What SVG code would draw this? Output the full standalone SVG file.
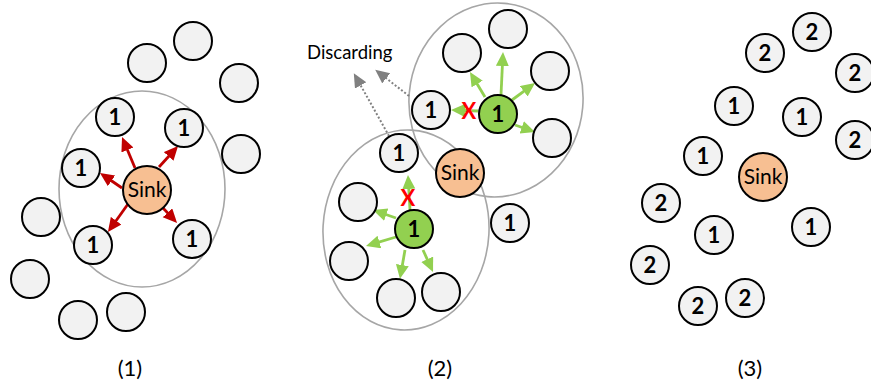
<svg xmlns="http://www.w3.org/2000/svg" width="871" height="385" viewBox="0 0 871 385">
<style>
.n{fill:#f2f2f2;stroke:#000;stroke-width:2}
.sink{fill:#f7bf92;stroke:#000;stroke-width:2}
.g{fill:#92d050;stroke:#000;stroke-width:2}
.ell{fill:none;stroke:#a6a6a6;stroke-width:1.6}
.num{font-family:Lato,"Liberation Sans",sans-serif;font-weight:bold;font-size:22px;text-anchor:middle;fill:#000}
.st{font-family:Lato,"Liberation Sans",sans-serif;font-size:21px;text-anchor:middle;fill:#000}
.lbl{font-family:Lato,"Liberation Sans",sans-serif;font-size:22px;text-anchor:middle;fill:#000}
.ra{stroke:#c00000;stroke-width:2.8;fill:none;marker-end:url(#mr)}
.ga{stroke:#92d050;stroke-width:2.8;fill:none;marker-end:url(#mg)}
.da{stroke:#808080;stroke-width:2;stroke-dasharray:2 2;fill:none;marker-end:url(#md)}
.x{font-family:Lato,"Liberation Sans",sans-serif;font-weight:bold;font-size:22px;text-anchor:middle;fill:#ff0000}
</style>
<defs>
<marker id="mr" markerUnits="userSpaceOnUse" markerWidth="15" markerHeight="14" refX="5" refY="6.5" orient="auto"><path d="M0,0 L14,6.5 L0,13 z" fill="#c00000"/></marker>
<marker id="mg" markerUnits="userSpaceOnUse" markerWidth="15" markerHeight="14" refX="5" refY="6.5" orient="auto"><path d="M0,0 L14,6.5 L0,13 z" fill="#92d050"/></marker>
<marker id="md" markerUnits="userSpaceOnUse" markerWidth="15" markerHeight="14" refX="5" refY="6.5" orient="auto"><path d="M0,0 L14,6.5 L0,13 z" fill="#808080"/></marker>
</defs>

<!-- ellipses (ranges) -->
<g id="ranges">
<ellipse class="ell" cx="142" cy="189" rx="83" ry="98"/>
<ellipse class="ell" cx="496" cy="100" rx="87" ry="97" transform="rotate(5 496 100)"/>
<ellipse class="ell" cx="406" cy="230" rx="83" ry="100" transform="rotate(3 406 230)"/>
</g>

<g id="connectors">
<line class="ra" x1="135" y1="168" x2="125.5" y2="145.3"/>
<line class="ra" x1="159" y1="167" x2="172" y2="152.7"/>
<line class="ra" x1="122" y1="188" x2="107.4" y2="178"/>
<line class="ra" x1="128" y1="204" x2="113.2" y2="224.7"/>
<line class="ra" x1="163" y1="208" x2="170.9" y2="216.4"/>

<line class="ga" x1="485" y1="97" x2="474.6" y2="79.7"/>
<line class="ga" x1="501" y1="95" x2="502.6" y2="61"/>
<line class="ga" x1="512" y1="100" x2="527.8" y2="88.4"/>
<line class="ga" x1="515" y1="125" x2="526.5" y2="129"/>
<line class="ga" x1="478" y1="111" x2="460" y2="110.3"/>

<line class="ga" x1="410" y1="210" x2="408.5" y2="184"/>
<line class="ga" x1="396" y1="218" x2="381.5" y2="213"/>
<line class="ga" x1="396" y1="237" x2="374.6" y2="243.4"/>
<line class="ga" x1="405" y1="250" x2="401.5" y2="270"/>
<line class="ga" x1="423" y1="250" x2="429.3" y2="263.8"/>

<line class="da" x1="409" y1="96" x2="382.3" y2="75.2"/>
<line class="da" x1="389" y1="136" x2="358.2" y2="81"/>
</g>

<!-- Panel 1 -->
<g id="p1-n1"><circle class="n" cx="147" cy="63" r="19"/></g>
<g id="p1-n2"><circle class="n" cx="193" cy="41" r="19"/></g>
<g id="p1-n3"><circle class="n" cx="239" cy="83" r="19"/></g>
<g id="p1-n4"><circle class="n" cx="115" cy="117" r="19"/><text class="num" x="115" y="125">1</text></g>
<g id="p1-n5"><circle class="n" cx="184" cy="128" r="19"/><text class="num" x="184" y="136">1</text></g>
<g id="p1-n6"><circle class="n" cx="81" cy="168" r="19"/><text class="num" x="81" y="176">1</text></g>
<g id="p1-n7"><circle class="n" cx="241" cy="154" r="19"/></g>
<g id="p1-n8"><circle class="n" cx="41" cy="217" r="19"/></g>
<g id="p1-n9"><circle class="n" cx="93" cy="245" r="19"/><text class="num" x="93" y="253">1</text></g>
<g id="p1-n10"><circle class="n" cx="192" cy="239" r="19"/><text class="num" x="192" y="247">1</text></g>
<g id="p1-n11"><circle class="n" cx="30" cy="279" r="19"/></g>
<g id="p1-n12"><circle class="n" cx="78" cy="320" r="19"/></g>
<g id="p1-n13"><circle class="n" cx="126" cy="312" r="19"/></g>
<g id="p1-sink"><circle class="sink" cx="147" cy="190" r="24"/><text class="st" x="147" y="197">Sink</text></g>
<text class="lbl" x="130" y="376">(1)</text>

<!-- Panel 2 -->
<g id="p2-n1"><circle class="n" cx="462" cy="53" r="19"/></g>
<g id="p2-n2"><circle class="n" cx="508" cy="29" r="19"/></g>
<g id="p2-n3"><circle class="n" cx="550" cy="71" r="19"/></g>
<g id="p2-n4"><circle class="n" cx="431" cy="110" r="19"/><text class="num" x="431" y="118">1</text></g>
<g id="p2-g1"><circle class="g" cx="498" cy="114" r="19"/><text class="num" x="498" y="122">1</text></g>
<g id="p2-n5"><circle class="n" cx="552" cy="138" r="19"/></g>
<g id="p2-n6"><circle class="n" cx="399" cy="153" r="19"/><text class="num" x="399" y="161">1</text></g>
<g id="p2-sink"><circle class="sink" cx="460" cy="173" r="24"/><text class="st" x="460" y="180">Sink</text></g>
<g id="p2-n7"><circle class="n" cx="510" cy="223" r="19"/><text class="num" x="510" y="231">1</text></g>
<g id="p2-n8"><circle class="n" cx="358" cy="202" r="19"/></g>
<g id="p2-g2"><circle class="g" cx="414" cy="229" r="19"/><text class="num" x="414" y="237">1</text></g>
<g id="p2-n9"><circle class="n" cx="349" cy="261" r="19"/></g>
<g id="p2-n10"><circle class="n" cx="396" cy="298" r="19"/></g>
<g id="p2-n11"><circle class="n" cx="441" cy="292" r="19"/></g>
<text class="x" x="469" y="119">X</text>
<text class="x" x="408" y="206">X</text>
<text x="307" y="59" style="font-family:Lato,'Liberation Sans',sans-serif;font-size:18.5px;fill:#000">Discarding</text>
<text class="lbl" x="440" y="376">(2)</text>

<!-- Panel 3 -->
<g id="p3-n1"><circle class="n" cx="765" cy="53" r="19"/><text class="num" x="765" y="61">2</text></g>
<g id="p3-n2"><circle class="n" cx="812" cy="32" r="19"/><text class="num" x="812" y="40">2</text></g>
<g id="p3-n3"><circle class="n" cx="855" cy="73" r="19"/><text class="num" x="855" y="81">2</text></g>
<g id="p3-n4"><circle class="n" cx="734" cy="106" r="19"/><text class="num" x="734" y="114">1</text></g>
<g id="p3-n5"><circle class="n" cx="802" cy="117" r="19"/><text class="num" x="802" y="125">1</text></g>
<g id="p3-n6"><circle class="n" cx="855" cy="140" r="19"/><text class="num" x="855" y="148">2</text></g>
<g id="p3-n7"><circle class="n" cx="703" cy="156" r="19"/><text class="num" x="703" y="164">1</text></g>
<g id="p3-sink"><circle class="sink" cx="763" cy="177" r="24"/><text class="st" x="763" y="184">Sink</text></g>
<g id="p3-n8"><circle class="n" cx="661" cy="203" r="19"/><text class="num" x="661" y="211">2</text></g>
<g id="p3-n9"><circle class="n" cx="714" cy="235" r="19"/><text class="num" x="714" y="243">1</text></g>
<g id="p3-n10"><circle class="n" cx="811" cy="227" r="19"/><text class="num" x="811" y="235">1</text></g>
<g id="p3-n11"><circle class="n" cx="650" cy="265" r="19"/><text class="num" x="650" y="273">2</text></g>
<g id="p3-n12"><circle class="n" cx="698" cy="306" r="19"/><text class="num" x="698" y="314">2</text></g>
<g id="p3-n13"><circle class="n" cx="745" cy="298" r="19"/><text class="num" x="745" y="306">2</text></g>
<text class="lbl" x="750" y="376">(3)</text>
</svg>
